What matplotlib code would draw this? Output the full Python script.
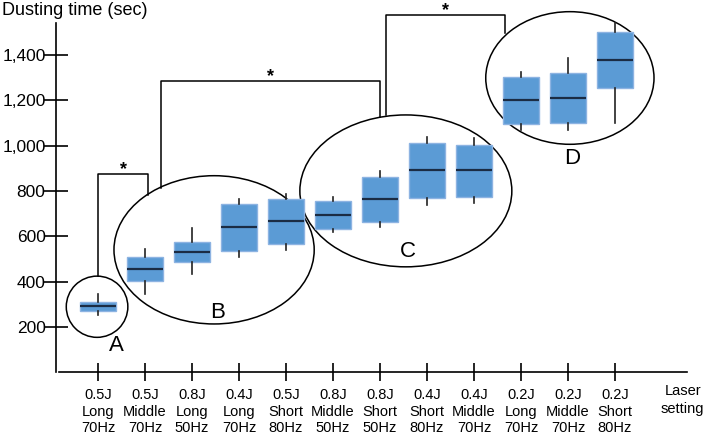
import numpy as np
import matplotlib.pyplot as plt
from matplotlib.patches import Ellipse

plt.rcParams['font.family'] = ['Liberation Sans', 'DejaVu Sans']

################################################################################
# data
settings = ["0.5J\nLong\n70Hz", "0.5J\nMiddle\n70Hz", "0.8J\nLong\n50Hz",
            "0.4J\nLong\n70Hz", "0.5J\nShort\n80Hz", "0.8J\nMiddle\n50Hz",
            "0.8J\nShort\n50Hz", "0.4J\nShort\n80Hz", "0.4J\nMiddle\n70Hz",
            "0.2J\nLong\n70Hz", "0.2J\nMiddle\n70Hz", "0.2J\nShort\n80Hz"]

whisker_low = [253, 344, 434, 510, 539, 618, 640, 738, 745, 1069, 1069, 1101]
q1 = [270, 401, 485, 535, 567, 631, 664, 769, 775, 1095, 1098, 1255]
median = [292, 456, 532, 642, 667, 694, 764, 891, 891, 1200, 1210, 1378]
q3 = [311, 510, 575, 743, 763, 754, 863, 1010, 1004, 1301, 1320, 1501]
whisker_high = [344, 543, 638, 764, 785, 772, 888, 1039, 1032, 1325, 1385, 1542]

yticks = [200, 400, 600, 800, 1000, 1200, 1400]

# groups: label, centre x, centre y, width, height, label x, label y
groups = [("A", 0.98, 289, 1.31, 270, 1.40, 117),
          ("B", 3.47, 540, 4.26, 654, 3.55, 263),
          ("C", 7.55, 800, 4.51, 670, 7.60, 531),
          ("D", 11.04, 1298, 3.58, 585, 11.09, 941)]

# brackets: left x, left y bottom, right x, right y bottom, top y
brackets = [(1.0, 425, 2.07, 782, 876),
            (2.34, 812, 7.0, 1128, 1285),
            (7.13, 1135, 9.67, 1495, 1577)]
################################################################################

fig = plt.figure(figsize=(7.09, 4.38), dpi=100)
ax = fig.add_axes([0, 0, 1, 1])
ax.set_xlim(-1.085, 14.0)
ax.set_ylim(-290, 1642)

stats = []
for i in range(len(settings)):
    stats.append(dict(whislo=whisker_low[i], q1=q1[i], med=median[i],
                      q3=q3[i], whishi=whisker_high[i], fliers=[]))

pos = np.arange(1, len(settings) + 1)
ax.bxp(stats, positions=pos, widths=0.76, patch_artist=True, showcaps=False,
       boxprops=dict(facecolor='#5b9bd5', edgecolor='#8db3e2', linewidth=1),
       medianprops=dict(color='#1b2c44', linewidth=1.6),
       whiskerprops=dict(color='#222222', linewidth=1.2))

# ellipses around groups
for name, cx, cy, w, h, lx, ly in groups:
    ax.add_patch(Ellipse((cx, cy), w, h, fill=False, edgecolor='black',
                         linewidth=1.1, clip_on=False))
    ax.text(lx, ly, name, fontsize=16, ha='center', va='center')

# significance brackets
for x0, y0, x1, y1, top in brackets:
    ax.plot([x0, x0, x1, x1], [y0, top, top, y1], color='black',
            linewidth=1.1, clip_on=False)
    ax.text((x0 + x1) / 2, top - 19, '*', fontsize=13, ha='center',
            va='bottom', fontweight='bold')

# axes
ax.spines['top'].set_visible(False)
ax.spines['right'].set_visible(False)
ax.spines['left'].set_position(('data', 0.106))
ax.spines['bottom'].set_position(('data', 0))
ax.spines['left'].set_bounds(0, 1540)
ax.spines['bottom'].set_bounds(0.17, 13.53)
for s in ['left', 'bottom']:
    ax.spines[s].set_linewidth(1.2)

ax.set_yticks(yticks)
ax.set_yticklabels(['{:,}'.format(v) for v in yticks], fontsize=12.5)
ax.set_xticks(pos)
ax.set_xticklabels(settings, fontsize=10.5, linespacing=1.22)
ax.tick_params(axis='y', direction='inout', length=17, width=1.2, pad=-1)
ax.tick_params(axis='x', direction='inout', length=13, width=1.2, pad=5)

fig.text(0.003, 0.977, 'Dusting time (sec)', fontsize=13, ha='left',
         va='center')
fig.text(0.963, 0.087, 'Laser\nsetting', fontsize=10.5, ha='center',
         va='center', linespacing=1.3)

plt.savefig('out.png', dpi=100)
